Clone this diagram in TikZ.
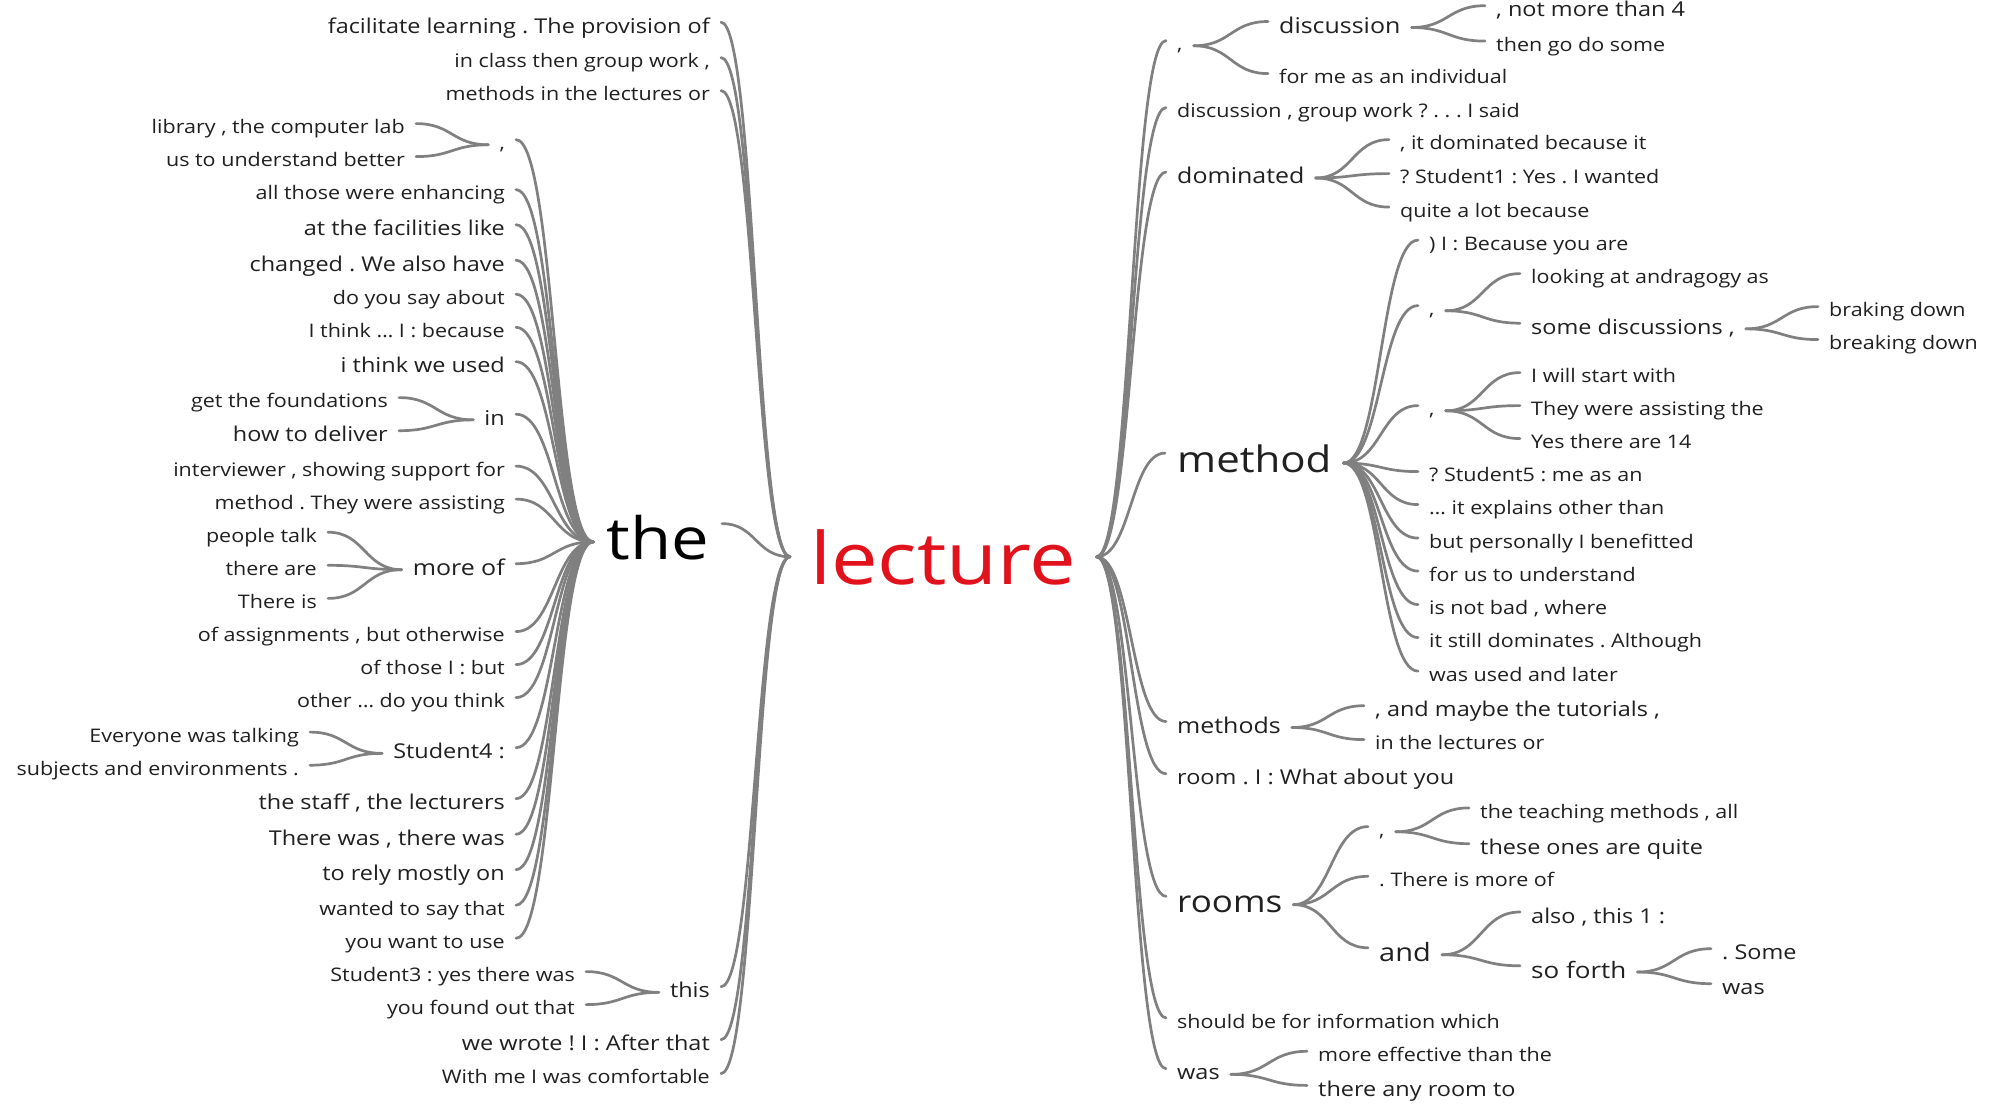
\documentclass[tikz,border=0pt]{standalone}
\usepackage{fontspec}
\setmainfont{Open Sans}[FakeStretch=1.15]
\usetikzlibrary{calc}
\definecolor{linkgray}{RGB}{128,128,128}
\definecolor{wordink}{RGB}{32,32,32}
\definecolor{rootred}{RGB}{226,18,28}
\tikzset{
  word/.style={inner xsep=11pt, inner ysep=0pt, text depth=0pt, text=wordink},
  ts/.style={word, font=\fontsize{18.7}{22}\selectfont, text height=10pt},
  tm/.style={word, font=\fontsize{20.4}{24}\selectfont, text height=10.9pt},
  tl/.style={word, font=\fontsize{21.7}{26}\selectfont, text height=11.6pt},
  tsf/.style={word, font=\fontsize{22.6}{27}\selectfont, text height=12.1pt},
  tand/.style={word, font=\fontsize{25.2}{30}\selectfont, text height=13.5pt},
  trooms/.style={word, font=\fontsize{30.4}{36}\selectfont, text height=16.3pt},
  tmeth/.style={word, font=\fontsize{36.5}{44}\selectfont, text height=19.5pt, inner xsep=12pt},
  tthe/.style={word, font=\fontsize{58.3}{70}\selectfont, text height=36pt, inner xsep=13pt, text=black},
  tlec/.style={word, font=\fontsize{72.2}{86}\selectfont, text height=56pt, inner xsep=20pt, text=rootred},
  lf/.style={anchor=south east},
  rt/.style={anchor=south west},
  conn/.style={draw=linkgray, line width=2.7pt, line cap=round},
}
% parent on the left, child to the right
\newcommand\lnkR[2]{\draw[conn] let \p1=(#1.east), \p2=(#2.north west) in
  (\p1) .. controls ({0.5*\x1+0.5*\x2},\y1) and ({0.5*\x1+0.5*\x2},\y2) .. (\p2);}
% parent on the right, child to the left
\newcommand\lnkL[2]{\draw[conn] let \p1=(#1.west), \p2=(#2.north east) in
  (\p1) .. controls ({0.5*\x1+0.5*\x2},\y1) and ({0.5*\x1+0.5*\x2},\y2) .. (\p2);}

\begin{document}
\frenchspacing
\begin{tikzpicture}[x=1pt,y=-1pt]
\fill[white] (0,0) rectangle (1996,1110);
\useasboundingbox (0,0) rectangle (1996,1110);

% root
\node[tlec,anchor=south west] (lec) at (790,585) {lecture};

% ---------------- left half ----------------
\node[tm,lf] (la1) at (721,33.5) {facilitate learning . The provision of};
\node[ts,lf] (la2) at (721,68) {in class then group work ,};
\node[ts,lf] (la3) at (721,101) {methods in the lectures or};
\node[tthe,anchor=south east] (the) at (722,560) {the};
\node[tm,lf] (this) at (721,998) {this};
\node[tm,lf] (la5) at (721,1051) {we wrote ! I : After that};
\node[ts,lf] (la6) at (721,1084) {With me I was comfortable};

\node[ts,lf] (th1) at (586,982) {Student3 : yes there was};
\node[ts,lf] (th2) at (586,1015) {you found out that};

% children of "the"
\node[ts,lf] (c1) at (516,150) {,};
\node[ts,lf] (c1a) at (416,134) {library , the computer lab};
\node[ts,lf] (c1b) at (416,167) {us to understand better};
\node[ts,lf] (tA) at (516,200) {all those were enhancing};
\node[tm,lf] (tB) at (516,236) {at the facilities like};
\node[tm,lf] (tC) at (516,271.5) {changed . We also have};
\node[ts,lf] (tD) at (516,304.6) {do you say about};
\node[ts,lf] (tE) at (516,337.7) {I think … I : because};
\node[tm,lf] (tF) at (516,373) {i think we used};
\node[tm,lf] (inw) at (516,425.5) {in};
\node[ts,lf] (in1) at (399,408) {get the foundations};
\node[tm,lf] (in2) at (399,442) {how to deliver};
\node[ts,lf] (tG) at (516,476.5) {interviewer , showing support for};
\node[ts,lf] (tH) at (516,509.5) {method . They were assisting};
\node[tl,lf] (moreof) at (516,575.7) {more of};
\node[ts,lf] (mo1) at (328,542.6) {people talk};
\node[ts,lf] (mo2) at (328,575.7) {there are};
\node[ts,lf] (mo3) at (328,608.8) {There is};
\node[ts,lf] (tI) at (516,642) {of assignments , but otherwise};
\node[ts,lf] (tJ) at (516,675) {of those I : but};
\node[ts,lf] (tK) at (516,708) {other … do you think};
\node[tm,lf] (st4) at (516,759) {Student4 :};
\node[ts,lf] (s41) at (310,742.5) {Everyone was talking};
\node[ts,lf] (s42) at (310,775.6) {subjects and environments .};
\node[tm,lf] (tL) at (516,810) {the staff , the lecturers};
\node[tm,lf] (tM) at (516,845.6) {There was , there was};
\node[tm,lf] (tN) at (516,881) {to rely mostly on};
\node[ts,lf] (tO) at (516,915.6) {wanted to say that};
\node[ts,lf] (tP) at (516,948.7) {you want to use};

% ---------------- right half ----------------
\node[ts,rt] (rc0) at (1166,51) {,};
\node[tl,rt] (disc) at (1268,33.5) {discussion};
\node[tm,rt] (disc1) at (1485,17) {, not more than 4};
\node[ts,rt] (disc2) at (1485,51.5) {then go do some};
\node[ts,rt] (forme) at (1268,84) {for me as an individual};
\node[ts,rt] (dgw) at (1166,118) {discussion , group work ? . . . I said};
\node[tl,rt] (dom) at (1166,184) {dominated};
\node[ts,rt] (dom1) at (1389,150) {, it dominated because it};
\node[ts,rt] (dom2) at (1389,184) {? Student1 : Yes . I wanted};
\node[ts,rt] (dom3) at (1389,217.5) {quite a lot because};

\node[tmeth,rt] (meth) at (1165,473) {method};
\node[ts,rt] (m1) at (1418,250.5) {) I : Because you are};
\node[ts,rt] (mc2) at (1418,316) {,};
\node[ts,rt] (mc2a) at (1520,284) {looking at andragogy as};
\node[tm,rt] (mc2b) at (1520,334.5) {some discussions ,};
\node[ts,rt] (sd1) at (1818,317) {braking down};
\node[ts,rt] (sd2) at (1818,350) {breaking down};
\node[ts,rt] (mc3) at (1418,416) {,};
\node[ts,rt] (mc3a) at (1520,383) {I will start with};
\node[ts,rt] (mc3b) at (1520,416) {They were assisting the};
\node[ts,rt] (mc3c) at (1520,449) {Yes there are 14};
\node[ts,rt] (m4) at (1418,482) {? Student5 : me as an};
\node[ts,rt] (m5) at (1418,515) {… it explains other than};
\node[ts,rt] (m6) at (1418,548.5) {but personally I benefitted};
\node[ts,rt] (m7) at (1418,581.5) {for us to understand};
\node[ts,rt] (m8) at (1418,615) {is not bad , where};
\node[ts,rt] (m9) at (1418,648) {it still dominates . Although};
\node[ts,rt] (m10) at (1418,681.5) {was used and later};

\node[tl,rt] (mths) at (1166,733.5) {methods};
\node[tm,rt] (mt1) at (1364,717) {, and maybe the tutorials ,};
\node[ts,rt] (mt2) at (1364,750) {in the lectures or};
\node[tm,rt] (roomI) at (1166,785) {room . I : What about you};

\node[trooms,rt] (rooms) at (1166,913) {rooms};
\node[ts,rt] (rc4) at (1368,837) {,};
\node[ts,rt] (rc4a) at (1469,818.3) {the teaching methods , all};
\node[tm,rt] (rc4b) at (1469,855) {these ones are quite};
\node[ts,rt] (rmore) at (1368,886.7) {. There is more of};
\node[tand,rt] (andw) at (1368,961.7) {and};
\node[tm,rt] (and1) at (1520,923.3) {also , this 1 :};
\node[tsf,rt] (sofo) at (1520,978.3) {so forth};
\node[tm,rt] (sf1) at (1711,960) {. Some};
\node[tm,rt] (sf2) at (1711,995) {was};

\node[ts,rt] (shd) at (1166,1028.3) {should be for information which};
\node[tm,rt] (wasw) at (1166,1080) {was};
\node[ts,rt] (w1) at (1307,1061.7) {more effective than the};
\node[tm,rt] (w2) at (1307,1096.7) {there any room to};

% ---------------- connectors ----------------
\foreach \c in {la1,la2,la3,the,this,la5,la6} {\lnkL{lec}{\c}}
\foreach \c in {th1,th2} {\lnkL{this}{\c}}
\foreach \c in {c1,tA,tB,tC,tD,tE,tF,inw,tG,tH,moreof,tI,tJ,tK,st4,tL,tM,tN,tO,tP} {\lnkL{the}{\c}}
\foreach \c in {c1a,c1b} {\lnkL{c1}{\c}}
\foreach \c in {in1,in2} {\lnkL{inw}{\c}}
\foreach \c in {mo1,mo2,mo3} {\lnkL{moreof}{\c}}
\foreach \c in {s41,s42} {\lnkL{st4}{\c}}

\foreach \c in {rc0,dgw,dom,meth,mths,roomI,rooms,shd,wasw} {\lnkR{lec}{\c}}
\foreach \c in {disc,forme} {\lnkR{rc0}{\c}}
\foreach \c in {disc1,disc2} {\lnkR{disc}{\c}}
\foreach \c in {dom1,dom2,dom3} {\lnkR{dom}{\c}}
\foreach \c in {m1,mc2,mc3,m4,m5,m6,m7,m8,m9,m10} {\lnkR{meth}{\c}}
\foreach \c in {mc2a,mc2b} {\lnkR{mc2}{\c}}
\foreach \c in {sd1,sd2} {\lnkR{mc2b}{\c}}
\foreach \c in {mc3a,mc3b,mc3c} {\lnkR{mc3}{\c}}
\foreach \c in {mt1,mt2} {\lnkR{mths}{\c}}
\foreach \c in {rc4,rmore,andw} {\lnkR{rooms}{\c}}
\foreach \c in {rc4a,rc4b} {\lnkR{rc4}{\c}}
\foreach \c in {and1,sofo} {\lnkR{andw}{\c}}
\foreach \c in {sf1,sf2} {\lnkR{sofo}{\c}}
\foreach \c in {w1,w2} {\lnkR{wasw}{\c}}
\end{tikzpicture}
\end{document}
